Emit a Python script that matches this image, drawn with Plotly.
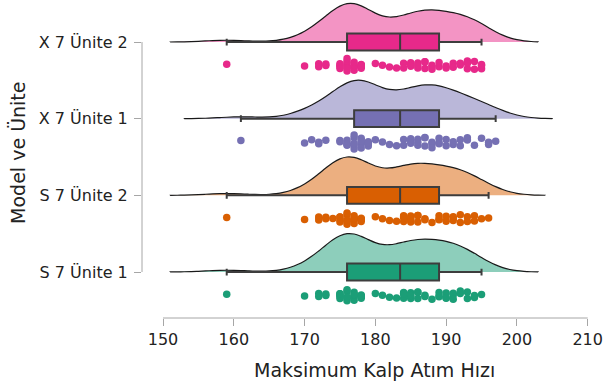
import plotly.graph_objects as go

categories = ["S 7 Ünite 1", "S 7 Ünite 2", "X 7 Ünite 1", "X 7 Ünite 2"]
colors = ["#1b9e77", "#d95f02", "#7570b3", "#e7298a"]
fills = ["rgba(27,158,119,0.5)", "rgba(217,95,2,0.5)", "rgba(117,112,179,0.5)", "rgba(231,41,138,0.5)"]

s7_unite1 = [159, 170, 172, 172, 173, 173,
             175, 175, 175, 175, 175, 176, 176, 176, 176, 176, 176,
             177, 177, 177, 177, 177, 178, 178, 178, 178,
             180, 181, 182, 183,
             184, 184, 184, 184, 185, 185, 185, 185, 186, 186, 186, 187, 187, 188,
             189, 189, 189, 190, 190, 190, 191, 191, 191, 192, 192, 193, 193, 194, 194, 195]
s7_unite2 = [159, 170, 172, 172, 173, 173,
             174, 175, 175, 175, 175, 176, 176, 176, 176, 176, 176,
             177, 177, 177, 177, 177, 178, 178, 178, 178,
             180, 181, 182, 183,
             184, 184, 184, 184, 185, 185, 185, 185, 186, 186, 186, 187, 187, 188,
             189, 189, 189, 190, 190, 191, 191, 191, 192, 192, 193, 193, 194, 194, 195, 196]
x7_unite1 = [161, 170, 171, 172, 172, 173,
             175, 175, 176, 176, 176, 176, 177, 177, 177, 177, 177,
             178, 178, 178, 178, 178, 179, 179, 179, 179,
             180, 181, 182, 183,
             184, 184, 185, 185, 185, 186, 186, 186, 187, 187, 187, 188, 188, 188,
             189, 189, 189, 190, 190, 191, 191, 192, 192, 193, 193, 194, 195, 196, 196, 197]
x7_unite2 = [159, 170, 172, 172, 173, 173,
             175, 175, 175, 175, 176, 176, 176, 176, 176, 176,
             177, 177, 177, 177, 177, 178, 178, 178, 178, 178,
             180, 181, 182, 183,
             184, 184, 185, 185, 185, 186, 186, 186, 187, 187, 187, 188, 188, 188,
             189, 189, 190, 190, 191, 191, 192, 192, 193, 193, 193, 194, 194, 195, 195, 195]
series = [s7_unite1, s7_unite2, x7_unite1, x7_unite2]

x_ticks = [150, 160, 170, 180, 190, 200, 210]

FONT = "DejaVu Sans"
AXIS_GRAY = "#a6a6a6"
KDE_BW = 3.0
KDE_TAIL = 8

fig = go.Figure()
for cat, col, fc, vals in zip(categories, colors, fills, series):
    fig.add_trace(go.Violin(
        x=vals, y=[cat] * len(vals), orientation="h", side="positive",
        width=1.0, points=False, bandwidth=KDE_BW, spanmode="manual",
        span=[min(vals) - KDE_TAIL, max(vals) + KDE_TAIL], scalemode="width",
        line=dict(color="#1a1a1a", width=1.2), fillcolor=fc,
        box_visible=False, meanline_visible=False, showlegend=False, hoverinfo="skip"))
# strip points (box itself hidden)
for cat, col, fc, vals in zip(categories, colors, fills, series):
    fig.add_trace(go.Box(
        x=vals, y=[cat] * len(vals), orientation="h", width=0.3,
        boxpoints="all", jitter=0.65, pointpos=-2,
        marker=dict(color=col, size=7.5, opacity=1),
        line=dict(color="rgba(0,0,0,0)", width=0), fillcolor="rgba(0,0,0,0)",
        showlegend=False, hoverinfo="x"))
# boxes
for cat, col, fc, vals in zip(categories, colors, fills, series):
    fig.add_trace(go.Box(
        x=vals, y=[cat] * len(vals), orientation="h", width=0.22,
        boxpoints=False,
        line=dict(color="#3d3d3d", width=2), fillcolor=col,
        whiskerwidth=0.4, showlegend=False))

fig.update_layout(
    width=604, height=389,
    margin=dict(l=142, r=4, t=2, b=71),
    paper_bgcolor="white", plot_bgcolor="white",
    font=dict(family=FONT, color="#222222"),
    violinmode="overlay", boxmode="overlay",
    xaxis=dict(range=[147.03, 211.74], tickvals=x_ticks, ticks="outside", ticklen=7,
               tickcolor=AXIS_GRAY, tickwidth=1, showline=False, showgrid=False,
               zeroline=False, automargin=False,
               tickfont=dict(size=16, family=FONT, color="#222222")),
    yaxis=dict(type="category", categoryorder="array", categoryarray=categories,
               range=[-0.6, 3.522], ticks="outside", ticklen=7, tickcolor=AXIS_GRAY,
               tickwidth=1, showline=False, showgrid=False, zeroline=False,
               ticklabelstandoff=3, automargin=False,
               tickfont=dict(size=16, family=FONT, color="#222222")),
    shapes=[
        dict(type="line", xref="x", yref="paper", x0=x_ticks[0], x1=x_ticks[-1], y0=0, y1=0,
             line=dict(color=AXIS_GRAY, width=1)),
        dict(type="line", xref="paper", yref="y", x0=0, x1=0, y0=0, y1=len(categories) - 1,
             line=dict(color=AXIS_GRAY, width=1)),
    ],
    annotations=[
        dict(text="Maksimum Kalp Atım Hızı", xref="paper", yref="paper", x=0.5087, y=-0.1646,
             xanchor="center", yanchor="middle", showarrow=False,
             font=dict(size=19, family=FONT, color="#222222")),
        dict(text="Model ve Ünite", xref="paper", yref="paper", x=-0.271, y=0.522,
             xanchor="center", yanchor="middle", showarrow=False, textangle=-90,
             font=dict(size=19, family=FONT, color="#222222")),
    ],
)

fig.write_html("out.html", config={"displayModeBar": False},
               post_script="document.body.style.margin='0';")
